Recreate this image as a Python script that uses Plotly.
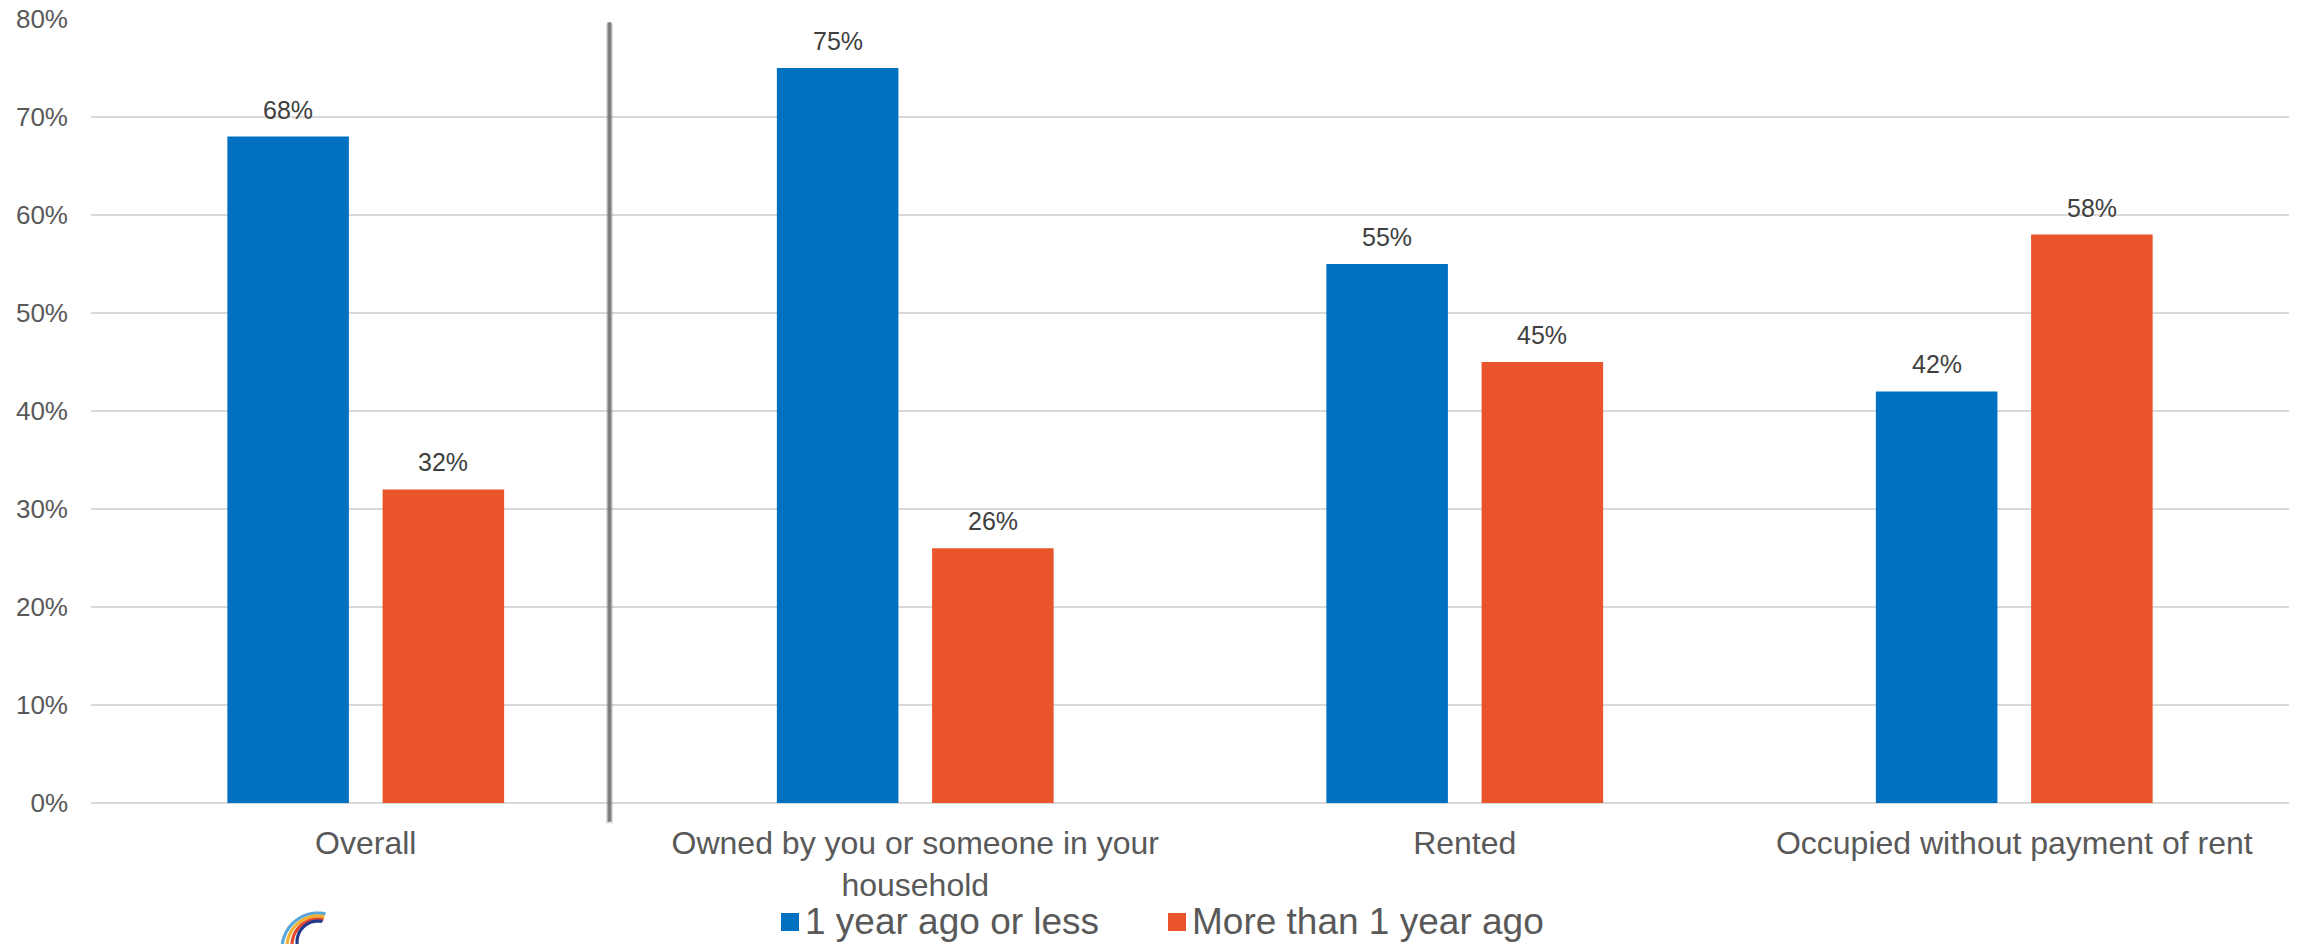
import math
import plotly.graph_objects as go

# Survey results: when the current dwelling situation began, by tenure type
categories = [
    "Overall",
    "Owned by you or someone in your<br>household",
    "Rented",
    "Occupied without payment of rent",
]
series_names = ["1 year ago or less", "More than 1 year ago"]
recent_pct = [68, 75, 55, 42]
older_pct = [32, 26, 45, 58]
y_ticks = [0, 10, 20, 30, 40, 50, 60, 70, 80]

BLUE = "#0070C0"
ORANGE = "#E9542A"
FONT = "Liberation Sans, Arial, sans-serif"

W, H = 2298, 944
ML, MR, MT, MB = 91, 9, 19, 141
PW, PH = W - ML - MR, H - MT - MB

BARGAP, GROUPGAP = 0.435, 0.217
SLOT = (1 - BARGAP) / 2          # width of each bar slot in category units
OFFSETS = [-SLOT / 2, SLOT / 2]  # centre of each series within its category


def px_to_paper(px, py):
    return (px - ML) / PW, (H - MB - py) / PH


fig = go.Figure()
annotations = []
for k, (name, vals, color) in enumerate([(series_names[0], recent_pct, BLUE),
                                         (series_names[1], older_pct, ORANGE)]):
    fig.add_trace(go.Bar(
        x=categories, y=vals, name=name, marker=dict(color=color, line=dict(width=0)),
        showlegend=False,
    ))
    # value labels floating above each bar
    for i, v in enumerate(vals):
        annotations.append(dict(
            x=i + OFFSETS[k], y=v, xref="x", yref="y", text=f"{v}%", showarrow=False,
            yshift=27, yanchor="middle", font=dict(size=25, color="#404040", family=FONT),
        ))

shapes = []
# legend swatches and labels below the axis
LEG_Y = 922
legend_items = [(781, 803, BLUE, series_names[0]), (1168, 1190, ORANGE, series_names[1])]
for sx, tx, col, label in legend_items:
    x0, y0 = px_to_paper(sx, LEG_Y + 9)
    x1, y1 = px_to_paper(sx + 18, LEG_Y - 9)
    shapes.append(dict(type="rect", xref="paper", yref="paper", x0=x0, x1=x1, y0=y0, y1=y1,
                       fillcolor=col, line=dict(width=0)))
    lx, ly = px_to_paper(tx, LEG_Y)
    annotations.append(dict(x=lx, y=ly, xref="paper", yref="paper", text=label, showarrow=False,
                            xanchor="left", yanchor="middle",
                            font=dict(size=37, color="#595959", family=FONT)))

# vertical divider separating the overall figure from the breakdown
dx = 0.4436
shapes.append(dict(type="line", xref="x", yref="paper", x0=dx, x1=dx,
                   y0=-0.026, y1=0.994, line=dict(color="rgba(0,0,0,0.12)", width=7)))
shapes.append(dict(type="line", xref="x", yref="paper", x0=dx, x1=dx,
                   y0=-0.024, y1=0.996, line=dict(color="#808080", width=4)))

# small rainbow-arc logo in the lower left corner
logo_cx = 318
arcs = [(36, 949, "#5BA7D9"), (31, 947, "#F2B134"), (26, 945, "#E5482A"), (21, 942, "#263A8C")]
for r, cy, col in arcs:
    pts = []
    for i in range(31):
        a = math.radians(78 + i * (130 / 30))
        px, py = logo_cx + r * math.cos(a), cy - r * math.sin(a)
        pts.append(px_to_paper(px, py))
    path = "M " + " L ".join(f"{x:.5f},{y:.5f}" for x, y in pts)
    shapes.append(dict(type="path", xref="paper", yref="paper", path=path,
                       line=dict(color=col, width=3.2)))

fig.update_layout(
    width=W, height=H,
    margin=dict(l=ML, r=MR, t=MT, b=MB, pad=0, autoexpand=False),
    paper_bgcolor="white", plot_bgcolor="white",
    barmode="group", bargap=BARGAP, bargroupgap=GROUPGAP,
    font=dict(family=FONT, color="#595959"),
    shapes=shapes, annotations=annotations, showlegend=False,
    xaxis=dict(showgrid=False, showline=False, ticks="", automargin=False,
               tickfont=dict(size=32, color="#595959"), ticklabelstandoff=18),
    yaxis=dict(range=[0, 80], tickvals=y_ticks, ticktext=[f"{v}%" for v in y_ticks],
               showgrid=True, gridcolor="#D9D9D9", gridwidth=2, automargin=False,
               zeroline=True, zerolinecolor="#D9D9D9", zerolinewidth=2,
               showline=False, ticks="", tickfont=dict(size=26, color="#595959"),
               ticklabelstandoff=22),
)

fig.write_html("out.html")
